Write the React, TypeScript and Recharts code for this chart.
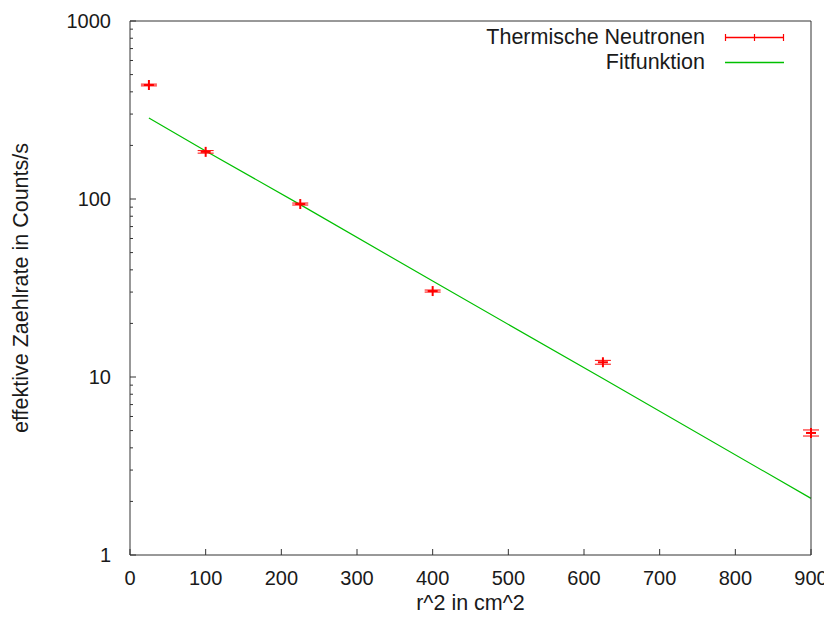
import React from 'react';
import { ComposedChart, XAxis, YAxis, Line, Scatter, ErrorBar, Legend } from 'recharts';

const seriesNames = ['Thermische Neutronen', 'Fitfunktion'];
const xLabel = 'r^2 in cm^2';
const yLabel = 'effektive Zaehlrate in Counts/s';

const r2 = [25, 100, 225, 400, 625, 900];
const rate = [437, 184, 93.7, 30.4, 12.1, 4.85];
const rateErr = [5, 3, 1.2, 0.4, 0.3, 0.19];

const fitX = [25, 100, 225, 400, 625, 900];
const fitY = [285, 186, 93, 34.6, 9.8, 2.08];

const xTicks = [0, 100, 200, 300, 400, 500, 600, 700, 800, 900];
const yMajor = [1, 10, 100, 1000];
const yTicks = [1, 2, 3, 4, 5, 6, 7, 8, 9, 10, 20, 30, 40, 50, 60, 70, 80, 90, 100, 200, 300, 400, 500, 600, 700, 800, 900, 1000];

const points = r2.map((x, i) => ({ x, y: rate[i], err: rateErr[i] }));
const fit = fitX.map((x, i) => ({ x, y: fitY[i] }));

const FONT = '"Liberation Sans", Arial, sans-serif';
const FS = 20;
const LFS = 21.5;
const TXT = '#1a1a1a';
const AXIS = '#333';
const RED = '#ff0000';
const GREEN = '#00c000';

const XTickBottom = (p: any) => (
  <g>
    <line x1={p.x} x2={p.x} y1={p.y} y2={p.y - 6} stroke={AXIS} />
    <text x={p.x} y={p.y + 30} textAnchor="middle" fontFamily={FONT} fontSize={FS} fill={TXT}>
      {p.payload.value}
    </text>
  </g>
);

const XTickTop = (p: any) => (
  <line x1={p.x} x2={p.x} y1={p.y} y2={p.y + 6} stroke={AXIS} />
);

const YTickLeft = (p: any) => {
  const v = p.payload.value;
  const major = yMajor.includes(v);
  return (
    <g>
      <line x1={p.x} x2={p.x + (major ? 6 : 3)} y1={p.y} y2={p.y} stroke={AXIS} />
      {major && (
        <text x={p.x - 19} y={p.y} dy="0.35em" textAnchor="end" fontFamily={FONT} fontSize={FS} fill={TXT}>
          {v}
        </text>
      )}
    </g>
  );
};

const YTickRight = (p: any) => {
  const v = p.payload.value;
  const major = yMajor.includes(v);
  return <line x1={p.x} x2={p.x - (major ? 6 : 3)} y1={p.y} y2={p.y} stroke={AXIS} />;
};

const PlusShape = (p: any) => {
  const { cx, cy } = p;
  if (cx == null || cy == null) return null;
  return (
    <g>
      <line x1={cx - 5} x2={cx + 5} y1={cy} y2={cy} stroke={RED} strokeWidth={2} />
      <line x1={cx} x2={cx} y1={cy - 5} y2={cy + 5} stroke={RED} strokeWidth={2} />
    </g>
  );
};

const LegendContent = () => (
  <div style={{ display: 'flex', flexDirection: 'column', alignItems: 'flex-end', fontFamily: FONT, fontSize: LFS, color: TXT, lineHeight: '25px' }}>
    <div style={{ display: 'flex', alignItems: 'center', height: 25 }}>
      <span>{seriesNames[0]}</span>
      <svg width={80} height={25} style={{ display: 'block' }}>
        <path d="M20,12.5 H79" stroke={RED} strokeWidth={1.5} fill="none" />
        <path d="M20.5,9 V16 M49.5,9 V16 M78.5,9 V16" stroke={RED} strokeWidth={1.2} fill="none" />
      </svg>
    </div>
    <div style={{ display: 'flex', alignItems: 'center', height: 25 }}>
      <span>{seriesNames[1]}</span>
      <svg width={80} height={25} style={{ display: 'block' }}>
        <path d="M20,12.5 H79" stroke={GREEN} strokeWidth={1.5} fill="none" />
      </svg>
    </div>
  </div>
);

export default function App() {
  return (
    <ComposedChart width={824} height={617} margin={{ top: 12, right: 20, bottom: 0, left: 0 }}>
      <XAxis
        xAxisId="b"
        type="number"
        dataKey="x"
        domain={[0, 900]}
        ticks={xTicks}
        interval={0}
        orientation="bottom"
        height={70}
        tickSize={0}
        tickMargin={0}
        tickLine={false}
        axisLine={{ stroke: AXIS }}
        tick={<XTickBottom />}
        label={{
          content: (p: any) => {
            const vb = p.viewBox;
            return (
              <text x={vb.x + vb.width / 2} y={vb.y + 55} textAnchor="middle" fontFamily={FONT} fontSize={LFS} fill={TXT}>
                {xLabel}
              </text>
            );
          },
        }}
      />
      <XAxis
        xAxisId="t"
        type="number"
        dataKey="x"
        domain={[0, 900]}
        ticks={xTicks}
        interval={0}
        orientation="top"
        height={1}
        tickSize={0}
        tickMargin={0}
        tickLine={false}
        axisLine={{ stroke: AXIS }}
        tick={<XTickTop />}
      />
      <YAxis
        yAxisId="l"
        dataKey="y"
        scale="log"
        domain={[1, 1000]}
        ticks={yTicks}
        interval={0}
        width={122}
        tickSize={0}
        tickMargin={0}
        tickLine={false}
        axisLine={{ stroke: AXIS }}
        tick={<YTickLeft />}
        label={{
          content: (p: any) => {
            const vb = p.viewBox;
            const cx = vb.x + 20;
            const cy = vb.y + vb.height / 2;
            return (
              <text x={cx} y={cy} transform={`rotate(-90 ${cx} ${cy})`} textAnchor="middle" fontFamily={FONT} fontSize={LFS} fill={TXT}>
                {yLabel}
              </text>
            );
          },
        }}
      />
      <YAxis
        yAxisId="r"
        orientation="right"
        scale="log"
        domain={[1, 1000]}
        ticks={yTicks}
        interval={0}
        width={1}
        tickSize={0}
        tickMargin={0}
        tickLine={false}
        axisLine={{ stroke: AXIS }}
        tick={<YTickRight />}
      />
      <Legend
        layout="horizontal"
        verticalAlign="middle"
        align="center"
        content={<LegendContent />}
        wrapperStyle={{ top: 17, left: 377, width: 400, height: 50 }}
      />
      <Line
        xAxisId="b"
        yAxisId="l"
        data={fit}
        dataKey="y"
        type="linear"
        stroke={GREEN}
        strokeWidth={1.2}
        dot={false}
        activeDot={false}
        isAnimationActive={false}
        legendType="none"
      />
      <Scatter
        xAxisId="b"
        yAxisId="l"
        data={points}
        dataKey="y"
        shape={<PlusShape />}
        isAnimationActive={false}
        legendType="none"
      >
        <ErrorBar dataKey="err" direction="y" width={8} stroke={RED} strokeWidth={1} isAnimationActive={false} />
      </Scatter>
    </ComposedChart>
  );
}
